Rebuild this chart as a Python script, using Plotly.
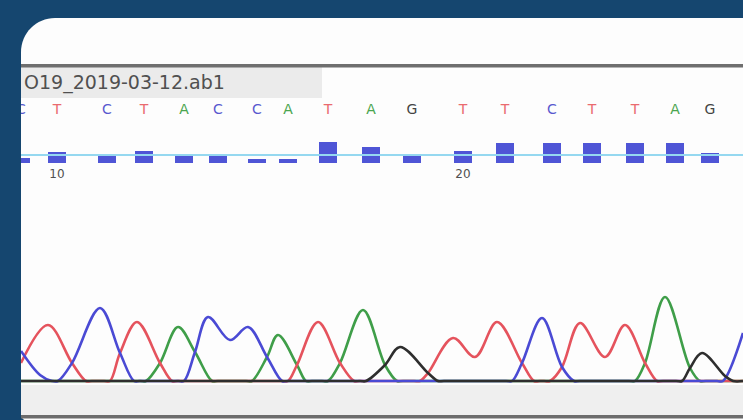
import plotly.graph_objects as go

# ---------------- data ----------------
BASE_NUMBERS = list(range(9, 27))
BASES = list("CTCTACCATAGTTCTTAG")
BASE_POS = [21, 57, 107, 144, 184, 218, 257, 288, 328, 371, 412, 463, 505, 552, 592, 635, 675, 710]
QUALITY = [12, 28, 22, 30, 20, 18, 10, 10, 52, 40, 20, 30, 50, 50, 50, 50, 50, 25]
QUAL_THRESHOLD = 20
FILE_NAME = "O19_2019-03-12.ab1"

# trace knots (scan position, signal) per dye channel
RED_X = [21, 48, 72, 86, 92, 104, 110, 120, 137, 160, 172, 178, 282, 288, 297, 318, 340, 354, 360,
         414, 420, 428, 453, 475, 497, 522, 534, 540, 544, 550, 562, 580, 605, 625, 645, 657, 663, 743]
RED_Y = [180, 560, 180, 0, 0, 0, 0, 280, 590, 180, 0, 0, 0, 0, 160, 590, 180, 0, 0,
         0, 0, 80, 430, 240, 590, 180, 0, 0, 0, 0, 140, 580, 240, 560, 180, 0, 0, 0]

BLUE_X = [21, 40, 52, 58, 72, 100, 120, 134, 140, 178, 184, 195, 208, 230, 248, 267, 282, 288,
          506, 512, 522, 542, 562, 574, 580, 717, 723, 743]
BLUE_Y = [300, 60, 0, 0, 180, 730, 280, 0, 0, 0, 0, 290, 640, 410, 540, 240, 0, 0,
          0, 0, 180, 630, 140, 0, 0, 0, 0, 480]

GREEN_X = [21, 140, 146, 160, 178, 195, 212, 218, 246, 252, 267, 278, 297, 306, 312,
           322, 328, 340, 363, 385, 397, 403, 629, 635, 645, 665, 690, 700, 706, 743]
GREEN_Y = [0, 0, 0, 180, 540, 290, 0, 0, 0, 0, 240, 460, 160, 0, 0,
           0, 0, 180, 710, 160, 0, 0, 0, 0, 180, 840, 130, 0, 0, 0]

BLACK_X = [21, 360, 366, 385, 400, 428, 438, 444, 676, 682, 690, 702, 725, 733, 743]
BLACK_Y = [0, 0, 0, 160, 340, 80, 0, 0, 0, 0, 130, 280, 50, 0, 0]

# ---------------- styling ----------------
W, H = 743, 420
BG = "#15466F"
DYE = {"A": "#3f9e49", "C": "#4a4ad4", "G": "#2e2e2e", "T": "#e5535d"}
LETTER = {"A": "#4aa54f", "C": "#5858cf", "G": "#444444", "T": "#ea6a6f"}


def fx(x):
    return x / W


def fy(y):
    return 1 - y / H


def P(x, y):
    return f"{fx(x):.5f},{fy(y):.5f}"


fig = go.Figure()

for xs, ys, base in [(GREEN_X, GREEN_Y, "A"), (RED_X, RED_Y, "T"),
                     (BLUE_X, BLUE_Y, "C"), (BLACK_X, BLACK_Y, "G")]:
    fig.add_trace(go.Scatter(x=xs, y=ys, mode="lines",
                             line=dict(color=DYE[base], width=2.6, shape="spline", smoothing=1),
                             hoverinfo="skip", showlegend=False))

fig.add_trace(go.Bar(x=BASE_POS, y=QUALITY, yaxis="y2", width=18,
                     marker=dict(color="#4f55d6", line=dict(width=0)),
                     hoverinfo="skip", showlegend=False))

fig.add_trace(go.Scatter(x=BASE_POS, y=[110] * len(BASE_POS), yaxis="y3", mode="text",
                         text=BASES, textposition="middle center",
                         textfont=dict(family="DejaVu Sans", size=14,
                                       color=[LETTER[b] for b in BASES]),
                         cliponaxis=True, hoverinfo="skip", showlegend=False))

pos_labels = [(p, str(n)) for p, n in zip(BASE_POS, BASE_NUMBERS) if n % 10 == 0]
fig.add_trace(go.Scatter(x=[p for p, _ in pos_labels], y=[175] * len(pos_labels), yaxis="y3",
                         mode="text", text=[t for _, t in pos_labels],
                         textfont=dict(family="DejaVu Sans", size=12, color="#505050"),
                         hoverinfo="skip", showlegend=False))

R = 34
k = 0.5523
x0c, y0c = 21, 18
card = ("M " + P(x0c, y0c + R) + " L " + P(x0c, 413) + " Q " + P(x0c, 421) + " " + P(29, 421)
        + " L " + P(743, 421) + " L " + P(743, y0c) + " L " + P(x0c + R, y0c)
        + " C " + P(x0c + R * (1 - k), y0c) + " " + P(x0c, y0c + R * (1 - k)) + " " + P(x0c, y0c + R)
        + " Z")

shapes = [
    dict(type="path", path=card, xref="paper", yref="paper", fillcolor="#fdfdfd",
         line=dict(width=0), layer="below"),
    dict(type="rect", xref="paper", yref="paper", x0=fx(21), x1=fx(322), y0=fy(98), y1=fy(67),
         fillcolor="#ebebeb", line=dict(width=0), layer="below"),
    dict(type="rect", xref="paper", yref="paper", x0=fx(21), x1=1, y0=fy(67.5), y1=fy(64),
         fillcolor="#6f6f6f", line=dict(width=0), layer="below"),
    dict(type="rect", xref="paper", yref="paper", x0=fx(21), x1=1, y0=fy(415), y1=fy(385),
         fillcolor="#efefef", line=dict(width=0), layer="below"),
    dict(type="rect", xref="paper", yref="paper", x0=fx(21), x1=1, y0=fy(418.5), y1=fy(415),
         fillcolor="#6c6c6c", line=dict(width=0), layer="below"),
    dict(type="line", xref="paper", yref="y2", x0=fx(21), x1=1, y0=QUAL_THRESHOLD, y1=QUAL_THRESHOLD,
         line=dict(color="#95d8f0", width=1.8), layer="above"),
]

annotations = [
    dict(xref="paper", yref="paper", x=fx(22), y=fy(83), xanchor="left", yanchor="middle",
         text=FILE_NAME, showarrow=False,
         font=dict(family="DejaVu Sans", size=19, color="#505050")),
]

hidden = dict(visible=False, showgrid=False, zeroline=False, fixedrange=True)
fig.update_layout(
    width=W, height=H, autosize=False,
    margin=dict(l=0, r=0, t=0, b=0, pad=0),
    paper_bgcolor=BG, plot_bgcolor="rgba(0,0,0,0)",
    xaxis=dict(domain=[fx(21), 1], range=[21, 743], **hidden),
    yaxis=dict(domain=[0, 1], range=[-390, 3810], **hidden),
    yaxis2=dict(overlaying="y", range=[-(H - 163) * 2.5, 163 * 2.5], **hidden),
    yaxis3=dict(overlaying="y", range=[H, 0], **hidden),
    shapes=shapes, annotations=annotations,
    bargap=0, showlegend=False,
)

fig.write_html(
    "out.html",
    config={"responsive": False, "displayModeBar": False},
    post_script="document.body.style.margin='0';document.body.style.overflow='hidden';",
)
